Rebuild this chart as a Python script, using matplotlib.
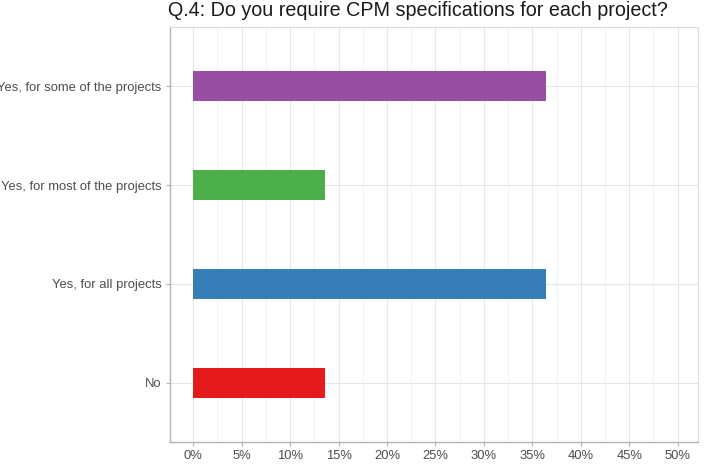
import matplotlib
matplotlib.use("Agg")
import matplotlib.pyplot as plt
from matplotlib.ticker import MultipleLocator, FuncFormatter

plt.rcParams['font.family'] = ['Liberation Sans', 'DejaVu Sans']

categories = ["No", "Yes, for all projects", "Yes, for most of the projects", "Yes, for some of the projects"]
values = [13.64, 36.36, 13.64, 36.36]
colors = ["#E41A1C", "#377EB8", "#4DAF4A", "#984EA3"]
xticks = [0, 5, 10, 15, 20, 25, 30, 35, 40, 45, 50]
title = "Q.4: Do you require CPM specifications for each project?"

fig = plt.figure(figsize=(7.08, 4.66), dpi=100)
ax = fig.add_axes([170/708, 1-442/466, 528/708, 415/466])

ypos = list(range(len(categories)))
ax.barh(ypos, values, height=0.3, color=colors, zorder=3)

ax.set_xlim(-2.4, 52.1)
ax.set_ylim(-0.6, len(categories) - 0.4)
ax.set_yticks(ypos)
ax.set_yticklabels(categories)
ax.set_xticks(xticks)
ax.xaxis.set_minor_locator(MultipleLocator(2.5))
ax.xaxis.set_major_formatter(FuncFormatter(lambda v, p: f"{v:.0f}%"))

ax.grid(True, which='major', axis='both', color='#e6e6e6', linewidth=0.8, zorder=0)
ax.grid(True, which='minor', axis='x', color='#f0f0f0', linewidth=0.6, zorder=0)

for side in ['left', 'bottom']:
    ax.spines[side].set_color('#b3b3b3')
    ax.spines[side].set_linewidth(1.0)
for side in ['top', 'right']:
    ax.spines[side].set_color('#dddddd')
    ax.spines[side].set_linewidth(0.8)

ax.tick_params(axis='both', which='major', colors='#b3b3b3', labelcolor='#4d4d4d',
               labelsize=9.4, length=3, width=0.8, pad=3)
ax.tick_params(axis='x', which='minor', length=0)

fig.text(168/708, 1-10/466, title, fontsize=14.2, color='#1a1a1a', ha='left', va='center')

fig.savefig("out.png", dpi=100)
